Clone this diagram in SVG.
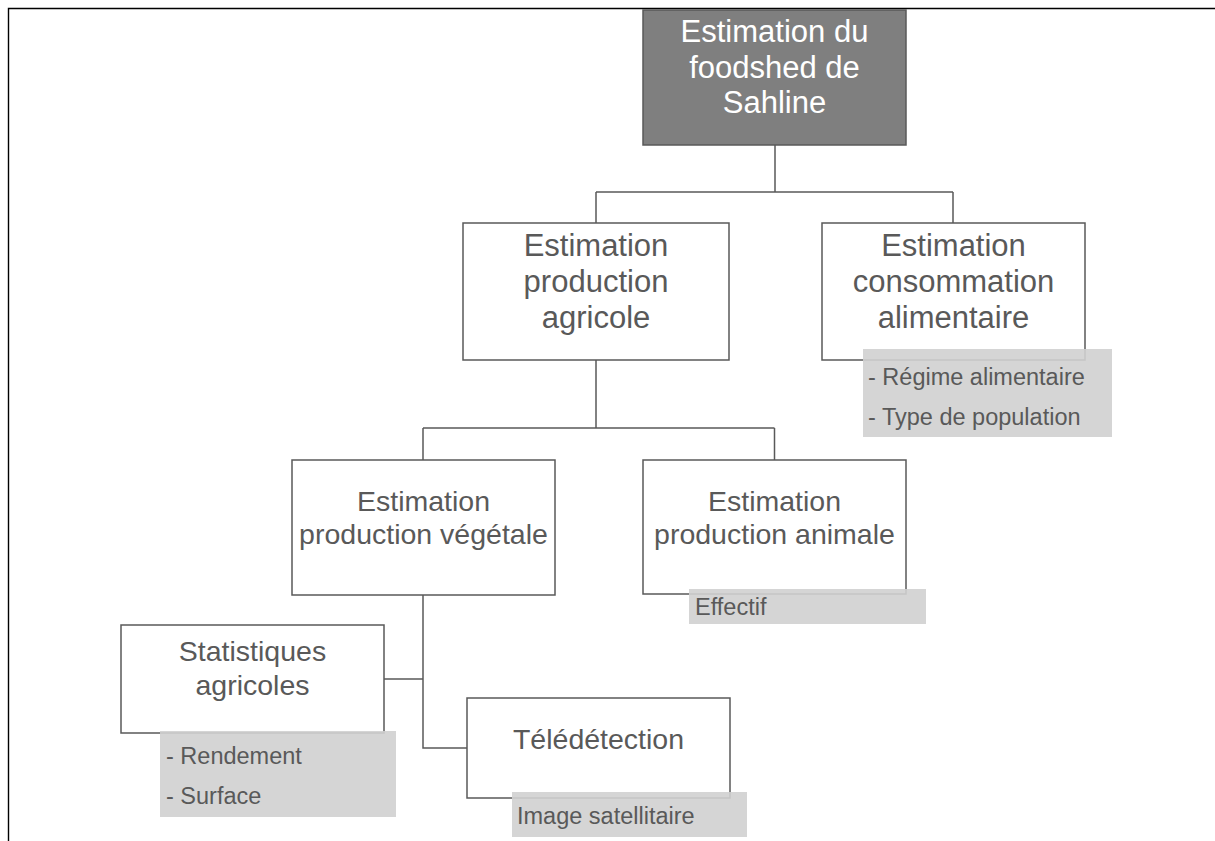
<svg xmlns="http://www.w3.org/2000/svg" width="1215" height="841" viewBox="0 0 1215 841">
<style>
.box{fill:#ffffff;stroke:#595959;stroke-width:1.5}
.root{fill:#7f7f7f;stroke:#595959;stroke-width:1.5}
.note{fill:#d0d0d0;fill-opacity:0.9}
.t{font-family:"Liberation Sans",Arial,sans-serif;fill:#595959;text-anchor:middle}
.rt{font-family:"Liberation Sans",Arial,sans-serif;fill:#ffffff;text-anchor:middle;font-size:31px}
.l2{font-size:31px}
.l3{font-size:28.5px}
.n{font-family:"Liberation Sans",Arial,sans-serif;fill:#595959;font-size:23.5px}
.c{fill:none;stroke:#595959;stroke-width:1.5}
</style>
<rect x="0" y="0" width="1215" height="841" fill="#ffffff"/>
<path d="M8.5 841 V8.5 H1215" fill="none" stroke="#000000" stroke-width="1.4"/>
<g id="connectors">
<path class="c" d="M775 145 V192 M596 192 H953 M596 192 V223 M953 192 V223"/>
<path class="c" d="M596 360 V428 M423 428 H774.5 M423 428 V460 M774.5 428 V460"/>
<path class="c" d="M423 595 V748 H467 M384 679 H423"/>
</g>
<g id="root">
<rect class="root" x="643" y="10" width="263" height="135"/>
<text class="rt" x="774.5" y="42">Estimation du</text>
<text class="rt" x="774.5" y="78">foodshed de</text>
<text class="rt" x="774.5" y="113">Sahline</text>
</g>
<g id="agricole">
<rect class="box" x="463" y="223" width="266" height="137"/>
<text class="t l2" x="596" y="256">Estimation</text>
<text class="t l2" x="596" y="292">production</text>
<text class="t l2" x="596" y="328">agricole</text>
</g>
<g id="consommation">
<rect class="box" x="822" y="223" width="263" height="137"/>
<text class="t l2" x="953.5" y="256">Estimation</text>
<text class="t l2" x="953.5" y="292">consommation</text>
<text class="t l2" x="953.5" y="328">alimentaire</text>
<rect class="note" x="863" y="349" width="249" height="88"/>
<text class="n" x="868" y="385">- Régime alimentaire</text>
<text class="n" x="868" y="425">- Type de population</text>
</g>
<g id="vegetale">
<rect class="box" x="292" y="460" width="263" height="135"/>
<text class="t l3" x="423.5" y="511">Estimation</text>
<text class="t l3" x="423.5" y="544">production végétale</text>
</g>
<g id="animale">
<rect class="box" x="643" y="460" width="263" height="134"/>
<text class="t l3" x="774.5" y="511">Estimation</text>
<text class="t l3" x="774.5" y="544">production animale</text>
<rect class="note" x="689" y="589" width="237" height="35"/>
<text class="n" x="695" y="615">Effectif</text>
</g>
<g id="statistiques">
<rect class="box" x="121" y="625" width="263" height="108"/>
<text class="t l3" x="252.5" y="661">Statistiques</text>
<text class="t l3" x="252.5" y="695">agricoles</text>
<rect class="note" x="160" y="731" width="236" height="86"/>
<text class="n" x="166" y="764">- Rendement</text>
<text class="n" x="166" y="804">- Surface</text>
</g>
<g id="teledetection">
<rect class="box" x="467" y="698" width="263" height="100"/>
<text class="t l3" x="598.5" y="749">Télédétection</text>
<rect class="note" x="512" y="792" width="235" height="45"/>
<text class="n" x="517" y="824">Image satellitaire</text>
</g>
</svg>
